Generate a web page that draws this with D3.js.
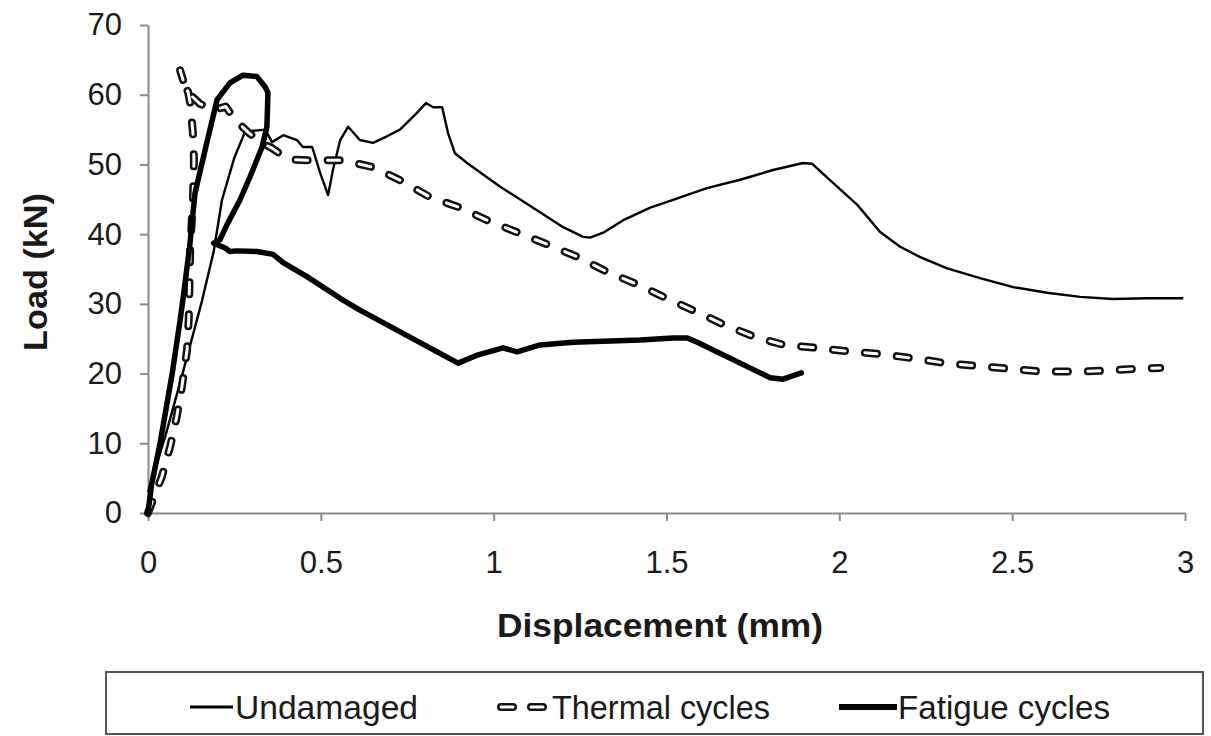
<!DOCTYPE html>
<html>
<head>
<meta charset="utf-8">
<script src="https://cdn.jsdelivr.net/npm/d3@7"></script>
<style>
  html, body { margin: 0; padding: 0; background: #fff; }
  svg { display: block; }
  text { font-family: "Liberation Sans", Arial, sans-serif; fill: #1a1a1a; }
</style>
</head>
<body>
<svg id="chart" width="1211" height="736"></svg>
<script>
// ---- data ----
const xTicks = [0, 0.5, 1, 1.5, 2, 2.5, 3];
const yTicks = [0, 10, 20, 30, 40, 50, 60, 70];
const seriesNames = ["Undamaged", "Thermal cycles", "Fatigue cycles"];

const undamagedDisp = [0, 0.05, 0.1, 0.156, 0.19, 0.214, 0.25, 0.28, 0.3, 0.339, 0.359, 0.391, 0.431, 0.448, 0.475, 0.498, 0.521, 0.535, 0.556, 0.579, 0.613, 0.651, 0.69, 0.729, 0.778, 0.804, 0.825, 0.851, 0.868, 0.888, 0.923, 1.019, 1.114, 1.201, 1.259, 1.279, 1.317, 1.375, 1.453, 1.519, 1.617, 1.713, 1.808, 1.895, 1.921, 1.965, 2.052, 2.118, 2.176, 2.234, 2.312, 2.407, 2.503, 2.601, 2.697, 2.792, 2.891, 2.995];
const undamagedLoad = [3, 11, 20, 30.4, 37.5, 44.9, 51, 54.6, 54.8, 55.0, 53.2, 54.2, 53.5, 52.5, 52.5, 48.8, 45.6, 49.2, 53.5, 55.4, 53.5, 53.1, 54.0, 55.0, 57.4, 58.8, 58.2, 58.2, 54.5, 51.6, 50.2, 46.8, 43.8, 41.0, 39.6, 39.5, 40.2, 42.0, 43.8, 44.9, 46.6, 47.8, 49.2, 50.2, 50.1, 48.1, 44.2, 40.3, 38.2, 36.7, 35.1, 33.7, 32.4, 31.6, 31.0, 30.7, 30.8, 30.8];

const thermalDisp = [0, 0.015, 0.04, 0.064, 0.083, 0.098, 0.113, 0.118, 0.122, 0.13, 0.133, 0.13, 0.122, 0.116, 0.101, 0.093, 0.105, 0.118, 0.15, 0.19, 0.225, 0.25, 0.29, 0.325, 0.36, 0.405, 0.46, 0.564, 0.651, 0.735, 0.816, 0.903, 0.99, 1.071, 1.157, 1.244, 1.328, 1.415, 1.5, 1.585, 1.667, 1.753, 1.84, 1.93, 2.025, 2.118, 2.214, 2.306, 2.399, 2.488, 2.581, 2.674, 2.763, 2.856, 2.928];
const thermalLoad = [0, 2, 5.2, 9.5, 13.8, 18.1, 23.4, 28, 37.7, 44.9, 50.6, 54.5, 58.8, 60.4, 61.8, 63.5, 61.5, 60.2, 58.7, 57.8, 58.3, 56.5, 54.6, 53.2, 52.3, 50.7, 50.6, 50.6, 49.6, 47.6, 45.3, 43.8, 41.8, 40.2, 38.5, 36.7, 34.6, 32.8, 30.8, 28.9, 27.0, 25.3, 24.1, 23.7, 23.2, 22.8, 22.2, 21.5, 21.1, 20.7, 20.3, 20.3, 20.4, 20.7, 20.8];

const fatigueDisp = [0, 0.01, 0.035, 0.07, 0.093, 0.101, 0.12, 0.136, 0.17, 0.2, 0.237, 0.275, 0.315, 0.339, 0.347, 0.344, 0.33, 0.295, 0.266, 0.228, 0.208, 0.19, 0.223, 0.237, 0.257, 0.315, 0.362, 0.391, 0.46, 0.556, 0.613, 0.897, 0.95, 1.027, 1.068, 1.134, 1.23, 1.424, 1.519, 1.56, 1.589, 1.713, 1.8, 1.837, 1.89];
const fatigueLoad = [0, 4, 10, 20, 27.7, 30.6, 38, 45.9, 53.1, 59.3, 61.7, 62.8, 62.6, 61.1, 60.3, 55.4, 52.5, 48.2, 44.9, 41.3, 39.2, 38.7, 38.0, 37.5, 37.6, 37.5, 37.1, 35.9, 33.9, 30.8, 29.1, 21.5, 22.6, 23.7, 23.1, 24.1, 24.5, 24.8, 25.1, 25.1, 24.5, 21.5, 19.4, 19.2, 20.1];

// ---- layout ----
const svg = d3.select("#chart");
const x = d3.scaleLinear().domain([0, 3]).range([148, 1185]);
const y = d3.scaleLinear().domain([0, 70]).range([513, 25]);
const axisColor = "#8a8a8a";

// axes
const gx = svg.append("g").attr("transform", `translate(0,${y(0)})`)
  .call(d3.axisBottom(x).tickValues(xTicks).tickSize(8).tickSizeOuter(0).tickPadding(30).tickFormat(d3.format("")));
const gy = svg.append("g").attr("transform", `translate(${x(0)},0)`)
  .call(d3.axisLeft(y).tickValues(yTicks).tickSize(8).tickSizeOuter(0).tickPadding(18).tickFormat(d3.format("d")));
[gx, gy].forEach(g => {
  g.select(".domain").attr("stroke", axisColor).attr("stroke-width", 2);
  g.selectAll(".tick line").attr("stroke", axisColor).attr("stroke-width", 2);
  g.selectAll(".tick text").attr("font-size", 31).attr("fill", "#1a1a1a")
    .attr("font-family", "'Liberation Sans', Arial, sans-serif");
});
gx.selectAll(".tick text").attr("dy", "0.71em");

// axis titles
svg.append("text").attr("x", 660).attr("y", 637).attr("text-anchor", "middle")
  .attr("font-size", 34).attr("font-weight", "bold")
  .attr("textLength", 326).attr("lengthAdjust", "spacingAndGlyphs")
  .text("Displacement (mm)");
svg.append("text").attr("transform", "translate(47,272) rotate(-90)").attr("text-anchor", "middle")
  .attr("font-size", 33).attr("font-weight", "bold")
  .attr("textLength", 158).attr("lengthAdjust", "spacingAndGlyphs")
  .text("Load (kN)");

// lines
const line = d3.line().x(d => x(d[0])).y(d => y(d[1])).curve(d3.curveLinear);
const zip = (a, b) => a.map((v, i) => [v, b[i]]);
const undamaged = zip(undamagedDisp, undamagedLoad);
const thermal = zip(thermalDisp, thermalLoad);
const fatigue = zip(fatigueDisp, fatigueLoad);

svg.append("path").datum(undamaged).attr("d", line)
  .attr("fill", "none").attr("stroke", "#000").attr("stroke-width", 2.4)
  .attr("stroke-linejoin", "round");

const dash = "12 20";
svg.append("path").datum(thermal).attr("d", line)
  .attr("fill", "none").attr("stroke", "#111").attr("stroke-width", 8)
  .attr("stroke-dasharray", dash).attr("stroke-linecap", "round").attr("stroke-linejoin", "round");
svg.append("path").datum(thermal).attr("d", line)
  .attr("fill", "none").attr("stroke", "#fff").attr("stroke-width", 3)
  .attr("stroke-dasharray", dash).attr("stroke-linecap", "round").attr("stroke-linejoin", "round");

svg.append("path").datum(fatigue).attr("d", line)
  .attr("fill", "none").attr("stroke", "#000").attr("stroke-width", 5.5)
  .attr("stroke-linejoin", "round").attr("stroke-linecap", "round");

// legend
const lg = svg.append("g");
lg.append("rect").attr("x", 106).attr("y", 672).attr("width", 1097).attr("height", 62)
  .attr("fill", "#fff").attr("stroke", "#555").attr("stroke-width", 2);
const ly = 707;
lg.append("line").attr("x1", 190).attr("x2", 233).attr("y1", ly).attr("y2", ly)
  .attr("stroke", "#000").attr("stroke-width", 3);
lg.append("line").attr("x1", 501).attr("x2", 543).attr("y1", ly).attr("y2", ly)
  .attr("stroke", "#111").attr("stroke-width", 8).attr("stroke-linecap", "round").attr("stroke-dasharray", "12 18");
lg.append("line").attr("x1", 501).attr("x2", 543).attr("y1", ly).attr("y2", ly)
  .attr("stroke", "#fff").attr("stroke-width", 3).attr("stroke-linecap", "round").attr("stroke-dasharray", "12 18");
lg.append("line").attr("x1", 839).attr("x2", 897).attr("y1", ly).attr("y2", ly)
  .attr("stroke", "#000").attr("stroke-width", 6);
const legendX = [235, 552, 898];
const legendW = [183, 218, 212];
seriesNames.forEach((n, i) => {
  lg.append("text").attr("x", legendX[i]).attr("y", ly + 12).attr("font-size", 33)
    .attr("textLength", legendW[i]).attr("lengthAdjust", "spacingAndGlyphs").text(n);
});
</script>
</body>
</html>
